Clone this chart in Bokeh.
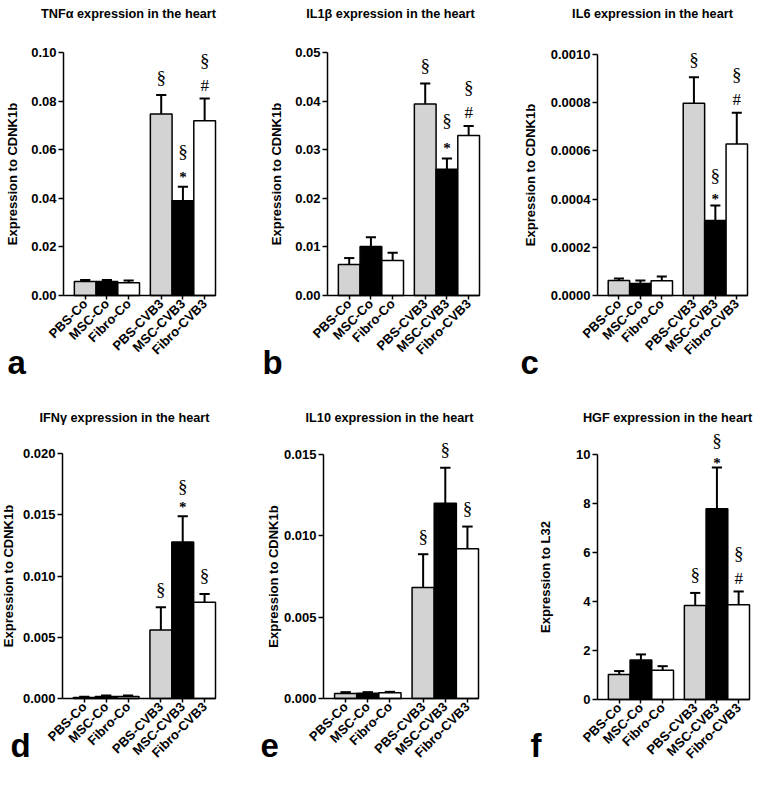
import math
from bokeh.plotting import figure
from bokeh.layouts import column, row
from bokeh.models import Range1d, FixedTicker, PrintfTickFormatter, Label, LabelSet, ColumnDataSource
from bokeh.embed import file_html
from bokeh.resources import INLINE

FONT = "Liberation Sans"

groups = ["PBS-Co", "MSC-Co", "Fibro-Co", "PBS-CVB3", "MSC-CVB3", "Fibro-CVB3"]
bar_colors = ["#d3d3d3", "#000000", "#ffffff", "#d3d3d3", "#000000", "#ffffff"]

# TNF-alpha
tnfa_mean = [0.0058, 0.0058, 0.0052, 0.0747, 0.0390, 0.0719]
tnfa_sem = [0.0006, 0.0006, 0.0010, 0.0078, 0.0058, 0.0092]
tnfa_sig = ["", "", "", "§", "§*", "§#"]
tnfa_ticks = [0.0, 0.02, 0.04, 0.06, 0.08, 0.10]

# IL1-beta
il1b_mean = [0.0064, 0.0101, 0.0072, 0.0394, 0.0260, 0.0329]
il1b_sem = [0.0013, 0.0019, 0.0016, 0.0042, 0.0022, 0.0020]
il1b_sig = ["", "", "", "§", "§*", "§#"]
il1b_ticks = [0.0, 0.01, 0.02, 0.03, 0.04, 0.05]

# IL6
il6_mean = [0.0000622, 0.0000498, 0.0000609, 0.000798, 0.000311, 0.000629]
il6_sem = [0.0000083, 0.0000124, 0.0000179, 0.000108, 0.000062, 0.000129]
il6_sig = ["", "", "", "§", "§*", "§#"]
il6_ticks = [0.0, 0.0002, 0.0004, 0.0006, 0.0008, 0.0010]

# IFN-gamma
ifng_mean = [0.00008, 0.00016, 0.00016, 0.00559, 0.01277, 0.00786]
ifng_sem = [0.00006, 0.00009, 0.00009, 0.00186, 0.00210, 0.00068]
ifng_sig = ["", "", "", "§", "§*", "§"]
ifng_ticks = [0.0, 0.005, 0.010, 0.015, 0.020]

# IL10
il10_mean = [0.00031, 0.00033, 0.00035, 0.00683, 0.01200, 0.00920]
il10_sem = [0.00008, 0.00006, 0.00006, 0.00204, 0.00218, 0.00137]
il10_sig = ["", "", "", "§", "§", "§"]
il10_ticks = [0.0, 0.005, 0.010, 0.015]

# HGF
hgf_mean = [1.02, 1.61, 1.19, 3.84, 7.79, 3.87]
hgf_sem = [0.14, 0.23, 0.17, 0.51, 1.68, 0.54]
hgf_sig = ["", "", "", "§", "§*", "§#"]
hgf_ticks = [0, 2, 4, 6, 8, 10]

titles = ["TNFα expression in the heart", "IL1β expression in the heart", "IL6 expression in the heart",
          "IFNγ expression in the heart", "IL10 expression in the heart", "HGF expression in the heart"]
ylabels = ["Expression to CDNK1b"] * 5 + ["Expression to L32"]
letters = ["a", "b", "c", "d", "e", "f"]
formats = ["%.2f", "%.2f", "%.4f", "%.3f", "%.3f", "%d"]

data = [
    (tnfa_mean, tnfa_sem, tnfa_sig, tnfa_ticks),
    (il1b_mean, il1b_sem, il1b_sig, il1b_ticks),
    (il6_mean, il6_sem, il6_sig, il6_ticks),
    (ifng_mean, ifng_sem, ifng_sig, ifng_ticks),
    (il10_mean, il10_sem, il10_sig, il10_ticks),
    (hgf_mean, hgf_sem, hgf_sig, hgf_ticks),
]

# bar positions in half-bar units: groups of three with a half-bar gap
positions = [2 * i + 2 + (1 if i >= 3 else 0) for i in range(len(groups))]
X_END = 14

# page geometry of each panel
# (fig_x, fig_y, fig_w, fig_h, axis_x, axis_right, y_top, y_zero, label_standoff,
#  title_cx, title_cy, letter_x, letter_baseline, sec_off_with_star, star_off)
geom = [
    (0, 0, 250, 400, 63, 215, 52, 295, 8, 128, 13, 7, 362, 35, 10),
    (250, 0, 250, 400, 327, 479, 52, 295, 8, 390, 13, 262, 362, 38, 10),
    (500, 0, 262, 400, 597, 747, 54, 295, 10, 652, 13, 520, 362, 30, 7),
    (0, 400, 250, 385, 62, 215, 453, 698, 4, 124, 417, 10, 745, 30, 9),
    (250, 400, 250, 385, 323, 478, 454, 698, 0, 389, 417, 260, 745, 30, 9),
    (500, 400, 262, 385, 597, 749, 454, 699, 20, 667, 417, 530, 745, 27, 4),
]


def make_panel(k):
    means, sems, sig, ticks = data[k]
    fx, fy, w, h, ax, ar, yt, y0, lstand, tcx, tcy, lx, lb, soff, aoff = geom[k]
    ymax = ticks[-1]
    xs = X_END / (ar - ax)
    ys = ymax / (y0 - yt)
    x_range = Range1d(-(ax - fx) * xs, X_END + (fx + w - ar) * xs)
    y_range = Range1d(-(fy + h - y0) * ys, ymax + (yt - fy) * ys)
    p = figure(width=w, height=h, x_range=x_range, y_range=y_range,
               output_backend="svg", toolbar_location=None, min_border=0,
               min_border_left=0, min_border_right=0, min_border_top=0, min_border_bottom=0)
    p.outline_line_color = None
    p.grid.visible = False
    p.background_fill_color = "white"
    p.border_fill_color = "white"

    tops = [m + s for m, s in zip(means, sems)]
    p.vbar(x=positions, top=means, bottom=0, width=2.0, fill_color=bar_colors,
           line_color="black", line_width=1.5)
    p.segment(x0=positions, y0=means, x1=positions, y1=tops, line_color="black", line_width=2)
    p.segment(x0=[x - 0.47 for x in positions], y0=tops, x1=[x + 0.47 for x in positions], y1=tops,
              line_color="black", line_width=2)

    # significance markers above error bars
    sec = dict(x=[], y=[], text=[], off=[])
    star = dict(x=[], y=[], text=[], off=[])
    hsh = dict(x=[], y=[], text=[], off=[])
    for x, t, s in zip(positions, tops, sig):
        if not s:
            continue
        if "*" in s:
            sec["x"].append(x); sec["y"].append(t); sec["text"].append("§"); sec["off"].append(soff)
            star["x"].append(x); star["y"].append(t); star["text"].append("*"); star["off"].append(aoff)
        elif "#" in s:
            sec["x"].append(x); sec["y"].append(t); sec["text"].append("§"); sec["off"].append(38)
            hsh["x"].append(x); hsh["y"].append(t); hsh["text"].append("#"); hsh["off"].append(13)
        else:
            sec["x"].append(x); sec["y"].append(t); sec["text"].append("§"); sec["off"].append(18)
    for src, size, style in [(sec, "19px", "normal"), (star, "15px", "bold"), (hsh, "17px", "normal")]:
        if src["x"]:
            p.add_layout(LabelSet(x="x", y="y", text="text", y_offset="off",
                                  source=ColumnDataSource(src), text_align="center",
                                  text_baseline="middle", text_font=FONT,
                                  text_font_size=size, text_font_style=style, text_color="black"))

    # axes pinned at the data origin
    xa = p.xaxis[0]
    xa.fixed_location = 0
    xa.bounds = (0, X_END)
    xa.ticker = FixedTicker(ticks=positions, minor_ticks=[])
    xa.major_label_overrides = {pos: g for pos, g in zip(positions, groups)}
    xa.major_label_orientation = math.pi / 4
    xa.major_tick_out = 4
    xa.major_tick_in = 0
    xa.minor_tick_line_color = None
    xa.major_label_standoff = 2
    xa.axis_line_width = 1.5
    xa.major_tick_line_width = 1.5
    xa.major_label_text_font = FONT
    xa.major_label_text_font_style = "bold"
    xa.major_label_text_font_size = "13px"
    xa.major_label_text_color = "black"

    ya = p.yaxis[0]
    ya.fixed_location = 0
    ya.bounds = (0, ymax)
    ya.ticker = FixedTicker(ticks=ticks, minor_ticks=[])
    ya.formatter = PrintfTickFormatter(format=formats[k])
    ya.major_tick_out = 5
    ya.major_tick_in = 0
    ya.minor_tick_line_color = None
    ya.major_label_standoff = 2
    ya.axis_line_width = 1.5
    ya.major_tick_line_width = 1.5
    ya.major_label_text_font = FONT
    ya.major_label_text_font_style = "bold"
    ya.major_label_text_font_size = "13px"
    ya.major_label_text_color = "black"
    ya.axis_label = ylabels[k]
    ya.axis_label_text_font = FONT
    ya.axis_label_text_font_style = "bold"
    ya.axis_label_text_font_size = "13px"
    ya.axis_label_text_color = "black"
    ya.axis_label_standoff = lstand

    p.add_layout(Label(x=tcx - fx, y=fy + h - tcy, x_units="screen", y_units="screen", text=titles[k],
                       text_align="center", text_baseline="middle", text_font=FONT,
                       text_font_style="bold", text_font_size="12.7px", text_color="black"))
    p.add_layout(Label(x=lx - fx, y=fy + h - lb, x_units="screen", y_units="screen", text=letters[k],
                       text_align="left", text_baseline="alphabetic", text_font=FONT,
                       text_font_style="bold", text_font_size="33px", text_color="black"))
    return p


panels = [make_panel(k) for k in range(6)]
layout = column(row(*panels[:3]), row(*panels[3:]))

open("out.html", "w").write(file_html(layout, INLINE))
